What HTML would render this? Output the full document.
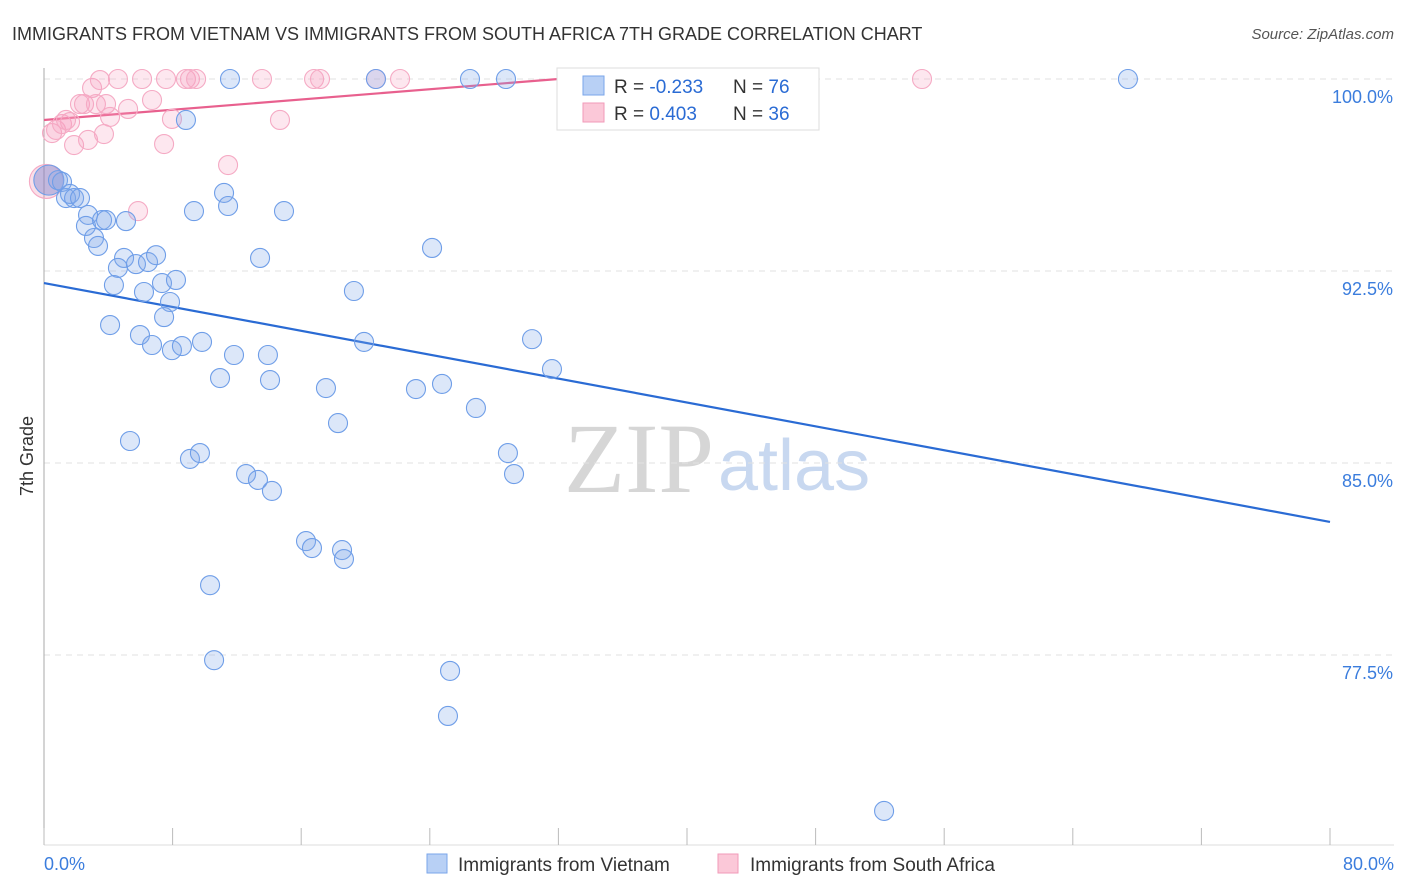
<!DOCTYPE html>
<html><head><meta charset="utf-8"><style>
body{margin:0;background:#fff;font-family:"Liberation Sans",sans-serif}
svg{display:block}
</style></head><body>
<svg id="chart" width="1406" height="892">
<text x="12" y="40" font-size="18" fill="#333">IMMIGRANTS FROM VIETNAM VS IMMIGRANTS FROM SOUTH AFRICA 7TH GRADE CORRELATION CHART</text>
<text x="1394" y="39" font-size="15" fill="#555" text-anchor="end" font-style="italic">Source: ZipAtlas.com</text>
<text transform="translate(33,456) rotate(-90)" font-size="18" fill="#333" text-anchor="middle">7th Grade</text>
<g>
<text x="714" y="492" font-size="100" font-family="Liberation Serif,serif" fill="#d6d6d6" text-anchor="end">ZIP</text>
<text x="718" y="490" font-size="72" fill="#c8d8f0">atlas</text>
</g>
<g id="grid"></g><g id="axes"></g><g id="lines"></g><g id="pts"></g>
<g>
<rect x="557" y="68" width="262" height="62" fill="#fff" stroke="#ddd"/>
<rect x="583" y="76" width="21" height="19" fill="#b8d0f5" stroke="#7aa6ea"/>
<rect x="583" y="103" width="21" height="19" fill="#fbc8d8" stroke="#f19ab8"/>
<text x="614" y="93" font-size="19" fill="#333">R = <tspan fill="#2a6bd4">-0.233</tspan></text>
<text x="733" y="93" font-size="19" fill="#333">N = <tspan fill="#2a6bd4">76</tspan></text>
<text x="614" y="120" font-size="19" fill="#333">R = <tspan fill="#2a6bd4"> 0.403</tspan></text>
<text x="733" y="120" font-size="19" fill="#333">N = <tspan fill="#2a6bd4">36</tspan></text>
</g>
<g>
<rect x="427" y="854" width="20" height="19" fill="#b8d0f5" stroke="#7aa6ea"/>
<text x="458" y="871" font-size="19" fill="#333">Immigrants from Vietnam</text>
<rect x="718" y="854" width="20" height="19" fill="#fbc8d8" stroke="#f19ab8"/>
<text x="750" y="871" font-size="19" fill="#333">Immigrants from South Africa</text>
</g>
</svg>
<script>
const vietX=[0.87,1.12,1.37,1.62,1.87,2.24,2.74,2.61,3.61,3.86,5.10,3.11,3.36,4.98,4.60,5.72,6.47,6.97,4.35,6.22,7.34,7.84,8.21,7.47,4.11,5.97,6.72,7.96,8.58,9.83,10.95,11.82,13.93,14.06,5.35,9.08,9.70,12.57,13.31,14.18,16.30,16.67,18.54,18.66,10.33,10.58,8.83,11.57,20.65,26.50,28.74,43.30,67.43,11.20,11.45,9.33,14.93,13.44,19.28,19.91,17.54,18.29,23.14,24.76,24.14,26.87,30.36,31.60,28.86,29.24,25.26,25.13,52.26];
const vietY=[96.05,95.98,95.35,95.51,95.35,95.35,94.69,94.26,94.49,94.49,94.45,93.79,93.48,93.01,92.62,92.77,92.85,93.12,91.95,91.68,92.03,91.29,92.15,90.70,90.39,90.0,89.61,89.41,89.57,89.73,88.32,89.22,89.22,88.24,85.86,85.16,85.39,84.57,84.34,83.91,81.95,81.68,81.60,81.25,80.23,77.30,98.40,100,100,100,100,100,100,95.55,95.04,94.84,94.84,93.01,91.72,89.73,87.93,86.56,87.89,88.09,93.40,87.15,89.84,88.67,85.39,84.57,76.88,75.12,71.41];
const safX=[0.50,0.75,1.12,1.62,1.37,1.87,2.24,2.49,2.74,2.99,3.23,3.48,3.73,3.86,4.11,4.60,5.23,6.10,6.72,7.47,7.59,7.96,8.83,9.08,9.46,11.45,13.56,14.68,16.80,17.17,20.65,22.15,5.85,54.62];
const safY=[97.89,98.01,98.24,98.32,98.40,97.42,99.02,99.02,97.62,99.65,99.02,99.96,97.85,99.02,98.52,100,98.83,100,99.18,97.46,100,98.44,100,100,100,96.64,100,98.40,100,100,100,100,94.84,100];
const bigX=[0.3,0.15], bigY=[96.05,96.0];
const vietTrend=[92.03,82.70]; // values at x=0 and x=80
const safTrend=[98.4,100.0,32.0]; // y at 0, y at end, end x
const yTicks=[100,92.5,85,77.5];
const xTickLabels=["0.0%","80.0%"];
const ns="http://www.w3.org/2000/svg";
const X0=44,X1=1330,Y0=845,Y1=68,xMin=0,xMax=80,yMin=70.08,yMax=100.43;
const sx=v=>X0+(v-xMin)/(xMax-xMin)*(X1-X0);
const sy=v=>Y0-(v-yMin)/(yMax-yMin)*(Y0-Y1);
function mk(tag,attrs,parent){const e=document.createElementNS(ns,tag);for(const k in attrs)e.setAttribute(k,attrs[k]);document.getElementById(parent).appendChild(e);return e;}
yTicks.forEach(t=>{
 const l=mk('line',{x1:X0,x2:1394,y1:sy(t),y2:sy(t),stroke:'#e2e2e2','stroke-dasharray':'6,5'},'grid');
 
 
 const tx=mk('text',{x:1393,y:sy(t)+24,'font-size':18,fill:'#3b7ddd','text-anchor':'end'},'grid');
 tx.textContent=t.toFixed(1)+'%';
 
 
});
const ax=mk('line',{x1:X0,x2:X0,y1:Y1,y2:Y0,stroke:'#aaa'},'axes');


const bx=mk('line',{x1:X0,x2:1394,y1:Y0,y2:Y0,stroke:'#ddd'},'axes');


for(let i=0;i<=10;i++){
 const t=mk('line',{x1:sx(i*8),x2:sx(i*8),y1:828,y2:Y0,stroke:'#bbb'},'axes');
 
 
}
[[0,'start',44],[80,'end',1394]].forEach((d,i)=>{
 const t=mk('text',{x:d[2],y:870,'font-size':18,fill:'#3b7ddd','text-anchor':d[1]},'axes');
 t.textContent=xTickLabels[i];
 
 
});
function dot(x,y,r,fill,stroke,name){
 const c=mk('circle',{cx:sx(x),cy:sy(y),r:r,fill:fill,stroke:stroke,'stroke-width':1.1},'pts');
 
 
}
dot(bigX[1],bigY[1],17,'rgba(240,150,180,0.3)','#f5aac4','point-south-africa');
safX.forEach((x,i)=>dot(x,safY[i],9.5,'rgba(246,160,190,0.25)','#f5aac4','point-south-africa'));
dot(bigX[0],bigY[0],15,'rgba(90,110,200,0.35)','#6f9ee8','point-vietnam');
vietX.forEach((x,i)=>dot(x,vietY[i],9.5,'rgba(130,170,235,0.28)','#6f9ee8','point-vietnam'));
const vl=mk('line',{x1:sx(0),y1:sy(vietTrend[0]),x2:sx(80),y2:sy(vietTrend[1]),stroke:'#2a6bd4','stroke-width':2.2},'lines');


const pl=mk('line',{x1:sx(0),y1:sy(safTrend[0]),x2:sx(safTrend[2]),y2:sy(safTrend[1]),stroke:'#e8608e','stroke-width':2.2},'lines');


</script>
</body></html>
